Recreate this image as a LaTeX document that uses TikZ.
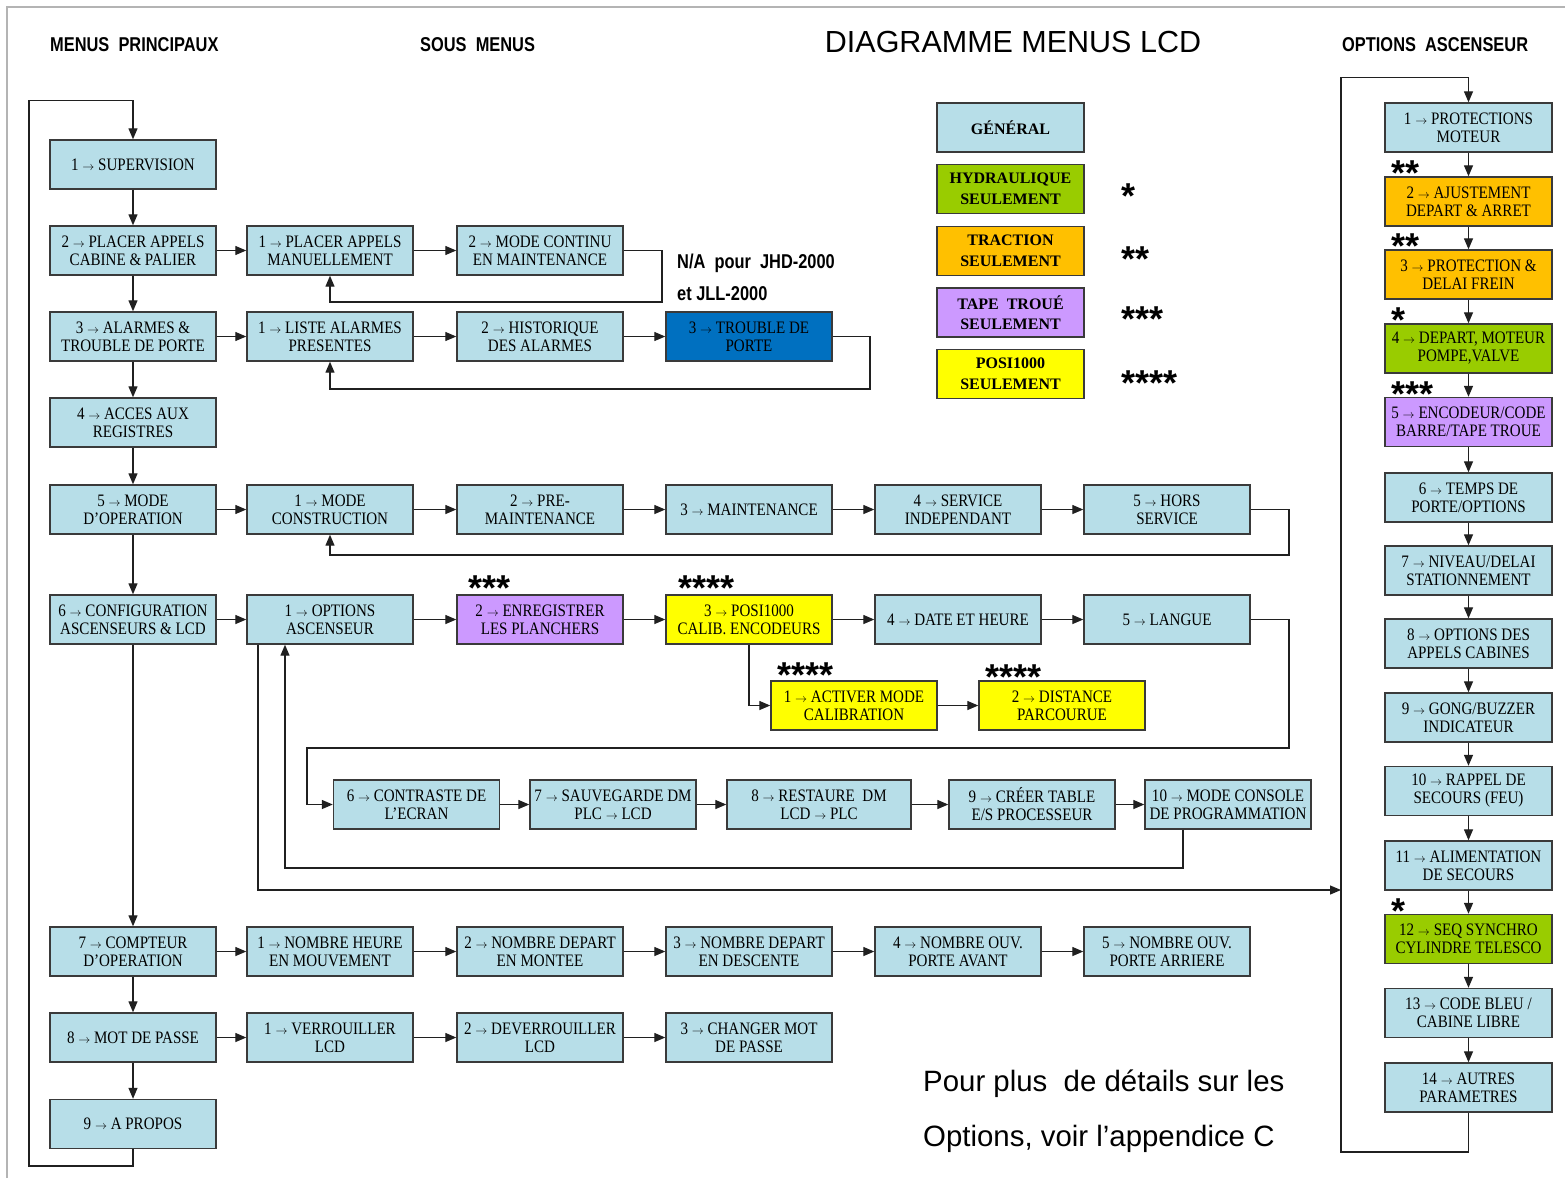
\documentclass[tikz,border=0pt]{standalone}
\usepackage{fontspec}
\setmainfont{Liberation Serif}
\newfontfamily\bxfont[FakeStretch=0.86]{Liberation Serif}
\newfontfamily\hdfont[FakeStretch=0.82]{Liberation Sans}
\newfontfamily\sansfont{Liberation Sans}
\usetikzlibrary{arrows.meta}
\definecolor{gen}{HTML}{B7DEE8}
\definecolor{hyd}{HTML}{99CC00}
\definecolor{tra}{HTML}{FFC000}
\definecolor{tap}{HTML}{CC99FF}
\definecolor{pos}{HTML}{FFFF00}
\definecolor{blu}{HTML}{0070C0}
\definecolor{bline}{HTML}{3A3A3A}
\definecolor{lnc}{HTML}{202020}
\definecolor{pageb}{HTML}{B4B4B4}
\newcommand\ra{{\fontsize{13}{13}\selectfont$\rightarrow$}}
\newcommand\stz[1]{\smash{\raisebox{-0.575em}{#1}}}
\tikzset{
  bx/.style={draw=bline, line width=1.4pt, fill=gen, minimum width=166pt, minimum height=49pt,
     inner sep=1pt, align=center, font=\bxfont\fontsize{17.5}{18}\selectfont},
  lg/.style={bx, minimum width=147pt, font=\bfseries\fontsize{16}{20.5}\selectfont},
  arr/.style={draw=lnc, line width=1.3pt, -{Triangle[length=11pt,width=9pt]}},
  stars/.style={font=\sansfont\bfseries\fontsize{36}{36}\selectfont, inner sep=0pt,
     text height=0.14em, text depth=0.14em, anchor=west},
  hd/.style={font=\hdfont\bfseries\fontsize{20}{20}\selectfont, inner sep=0pt, anchor=west},
  big/.style={font=\sansfont\fontsize{29.4}{29.4}\selectfont, inner sep=0pt, anchor=west},
}
\begin{document}
\begin{tikzpicture}[x=1pt,y=-1pt]
\useasboundingbox (0,0) rectangle (1565,1178);
\fill[white] (0,0) rectangle (1565,1178);
\draw[pageb, line width=2pt] (7,1178) -- (7,7) -- (1565,7);

% headers
\node[hd] (h1) at (50,45) {MENUS\ \ PRINCIPAUX};
\node[hd] (h2) at (420,45) {SOUS\ \ MENUS};
\node[hd] (h3) at (1342,45) {OPTIONS\ \ ASCENSEUR};
\node[font=\sansfont\fontsize{30.5}{30.5}\selectfont, inner sep=0pt] (title) at (1013,42) {DIAGRAMME MENUS LCD};
\node[hd] (na1) at (677,263) {N/A\ \ pour\ \ JHD-2000};
\node[hd] (na2) at (677,294) {et JLL-2000};
\node[big] (f1) at (923,1084) {Pour plus\ \ de détails sur les};
\node[big] (f2) at (923,1139) {Options, voir l’appendice C};

% main column
\node[bx] (m1) at (133,164.5) {1 \ra{} SUPERVISION};
\node[bx] (m2) at (133,250.5) {2 \ra{} PLACER APPELS\\ CABINE \& PALIER};
\node[bx] (m3) at (133,336.5) {3 \ra{} ALARMES \&\\ TROUBLE DE PORTE};
\node[bx] (m4) at (133,422.5) {4 \ra{} ACCES AUX\\ REGISTRES};
\node[bx] (m5) at (133,509.5) {5 \ra{} MODE\\ D’OPERATION};
\node[bx] (m6) at (133,619.5) {6 \ra{} CONFIGURATION\\ ASCENSEURS \& LCD};
\node[bx] (m7) at (133,951.5) {7 \ra{} COMPTEUR\\ D’OPERATION};
\node[bx] (m8) at (133,1037.5) {8 \ra{} MOT DE PASSE};
\node[bx] (m9) at (133,1124) {9 \ra{} A PROPOS};

% sub menus
\node[bx] (s21) at (330,250.5) {1 \ra{} PLACER APPELS\\ MANUELLEMENT};
\node[bx] (s22) at (540,250.5) {2 \ra{} MODE CONTINU\\ EN MAINTENANCE};
\node[bx] (s31) at (330,336.5) {1 \ra{} LISTE ALARMES\\ PRESENTES};
\node[bx] (s32) at (540,336.5) {2 \ra{} HISTORIQUE\\ DES ALARMES};
\node[bx, fill=blu] (s33) at (749,336.5) {3 \ra{} TROUBLE DE\\ PORTE};
\node[bx] (s51) at (330,509.5) {1 \ra{} MODE\\ CONSTRUCTION};
\node[bx] (s52) at (540,509.5) {2 \ra{} PRE-\\ MAINTENANCE};
\node[bx] (s53) at (749,509.5) {3 \ra{} MAINTENANCE};
\node[bx] (s54) at (958,509.5) {4 \ra{} SERVICE\\ INDEPENDANT};
\node[bx] (s55) at (1167,509.5) {5 \ra{} HORS\\ SERVICE};
\node[bx] (s61) at (330,619.5) {1 \ra{} OPTIONS\\ ASCENSEUR};
\node[bx, fill=tap] (s62) at (540,619.5) {2 \ra{} ENREGISTRER\\ LES PLANCHERS};
\node[bx, fill=pos] (s63) at (749,619.5) {3 \ra{} POSI1000\\ CALIB. ENCODEURS};
\node[bx] (s64) at (958,619.5) {4 \ra{} DATE ET HEURE};
\node[bx] (s65) at (1167,619.5) {5 \ra{} LANGUE};
\node[bx, fill=pos] (a1) at (854,705.5) {1 \ra{} ACTIVER MODE\\ CALIBRATION};
\node[bx, fill=pos] (a2) at (1062,705.5) {2 \ra{} DISTANCE\\ PARCOURUE};
\node[bx] (c6) at (416.5,804.5) {6 \ra{} CONTRASTE DE\\ L’ECRAN};
\node[bx] (c7) at (613,804.5) {7 \ra{} SAUVEGARDE DM\\ PLC \ra{} LCD};
\node[bx, minimum width=184pt] (c8) at (819,804.5) {8 \ra{} RESTAURE\ \ DM\\ LCD \ra{} PLC};
\node[bx] (c9) at (1032,804.5) {9 \ra{} CRÉER TABLE\\ E/S PROCESSEUR};
\node[bx] (c10) at (1228,804.5) {10 \ra{} MODE CONSOLE\\ DE PROGRAMMATION};
\node[bx] (s71) at (330,951.5) {1 \ra{} NOMBRE HEURE\\ EN MOUVEMENT};
\node[bx] (s72) at (540,951.5) {2 \ra{} NOMBRE DEPART\\ EN MONTEE};
\node[bx] (s73) at (749,951.5) {3 \ra{} NOMBRE DEPART\\ EN DESCENTE};
\node[bx] (s74) at (958,951.5) {4 \ra{} NOMBRE OUV.\\ PORTE AVANT};
\node[bx] (s75) at (1167,951.5) {5 \ra{} NOMBRE OUV.\\ PORTE ARRIERE};
\node[bx] (s81) at (330,1037.5) {1 \ra{} VERROUILLER\\ LCD};
\node[bx] (s82) at (540,1037.5) {2 \ra{} DEVERROUILLER\\ LCD};
\node[bx] (s83) at (749,1037.5) {3 \ra{} CHANGER MOT\\ DE PASSE};

% legend
\node[lg] (l1) at (1010.5,127.5) {GÉNÉRAL};
\node[lg, fill=hyd] (l2) at (1010.5,189) {HYDRAULIQUE\\ SEULEMENT};
\node[lg, fill=tra] (l3) at (1010.5,251) {TRACTION\\ SEULEMENT};
\node[lg, fill=tap] (l4) at (1010.5,312.5) {TAPE\ \ TROUÉ\\ SEULEMENT};
\node[lg, fill=pos] (l5) at (1010.5,374) {POSI1000\\ SEULEMENT};
\node[stars] (ls1) at (1121,188) {\stz{*}};
\node[stars] (ls2) at (1121,251) {\stz{**}};
\node[stars] (ls3) at (1121,311) {\stz{***}};
\node[stars] (ls4) at (1121,375) {\stz{****}};

% options ascenseur column
\node[bx, minimum width=167pt] (r1) at (1468.5,127.5) {1 \ra{} PROTECTIONS\\ MOTEUR};
\node[bx, minimum width=167pt, fill=tra] (r2) at (1468.5,201.5) {2 \ra{} AJUSTEMENT\\ DEPART \& ARRET};
\node[bx, minimum width=167pt, fill=tra] (r3) at (1468.5,274.5) {3 \ra{} PROTECTION \&\\ DELAI FREIN};
\node[bx, minimum width=167pt, fill=hyd] (r4) at (1468.5,348.5) {4 \ra{} DEPART, MOTEUR\\ POMPE,VALVE};
\node[bx, minimum width=167pt, fill=tap] (r5) at (1468.5,422) {5 \ra{} ENCODEUR/CODE\\ BARRE/TAPE TROUE};
\node[bx, minimum width=167pt] (r6) at (1468.5,497.5) {6 \ra{} TEMPS DE\\ PORTE/OPTIONS};
\node[bx, minimum width=167pt] (r7) at (1468.5,570.5) {7 \ra{} NIVEAU/DELAI\\ STATIONNEMENT};
\node[bx, minimum width=167pt] (r8) at (1468.5,643.5) {8 \ra{} OPTIONS DES\\ APPELS CABINES};
\node[bx, minimum width=167pt] (r9) at (1468.5,717.5) {9 \ra{} GONG/BUZZER\\ INDICATEUR};
\node[bx, minimum width=167pt] (r10) at (1468.5,791) {10 \ra{} RAPPEL DE\\ SECOURS (FEU)};
\node[bx, minimum width=167pt] (r11) at (1468.5,865.5) {11 \ra{} ALIMENTATION\\ DE SECOURS};
\node[bx, minimum width=167pt, fill=hyd] (r12) at (1468.5,939) {12 \ra{} SEQ SYNCHRO\\ CYLINDRE TELESCO};
\node[bx, minimum width=167pt] (r13) at (1468.5,1013) {13 \ra{} CODE BLEU /\\ CABINE LIBRE};
\node[bx, minimum width=167pt] (r14) at (1468.5,1087.5) {14 \ra{} AUTRES\\ PARAMETRES};

% stars
\node[stars] (st1) at (468,580) {\stz{***}};
\node[stars] (st2) at (678,580) {\stz{****}};
\node[stars] (st3) at (777,667) {\stz{****}};
\node[stars] (st4) at (985,669) {\stz{****}};
\node[stars] (rs2) at (1391,165) {\stz{**}};
\node[stars] (rs3) at (1391,238) {\stz{**}};
\node[stars] (rs4) at (1391,312) {\stz{*}};
\node[stars] (rs5) at (1391,386) {\stz{***}};
\node[stars] (rs12) at (1391,903) {\stz{*}};

% main vertical arrows
\foreach \a/\b in {m1/m2,m2/m3,m3/m4,m4/m5,m5/m6,m6/m7,m7/m8,m8/m9}
  \draw[arr] (\a) -- (\b);
% right column arrows
\foreach \a/\b in {r1/r2,r2/r3,r3/r4,r4/r5,r5/r6,r6/r7,r7/r8,r8/r9,r9/r10,r10/r11,r11/r12,r12/r13,r13/r14}
  \draw[arr] (\a) -- (\b);
% horizontal arrows
\foreach \a/\b in {m2/s21,s21/s22,m3/s31,s31/s32,s32/s33,m5/s51,s51/s52,s52/s53,s53/s54,s54/s55,
  m6/s61,s61/s62,s62/s63,s63/s64,s64/s65,a1/a2,c6/c7,c7/c8,c8/c9,c9/c10,
  m7/s71,s71/s72,s72/s73,s73/s74,s74/s75,m8/s81,s81/s82,s82/s83}
  \draw[arr] (\a) -- (\b);

% feedback loops
\draw[arr] (s22.east) -| (662,302) -| (s21.south);
\draw[arr] (s33.east) -| (870,389) -| (s31.south);
\draw[arr] (s55.east) -| (1289,555) -| (s51.south);
\draw[arr] (s63.south) |- (a1.west);
\draw[arr] (s65.east) -| (1289,748) -| (307,804.5) -- (c6.west);
\draw[arr] ([xshift=-45pt]c10.south) |- (285,868) -- ([xshift=-45pt]s61.south);
\coordinate (rin) at (1341,890);
\draw[arr] ([xshift=-72pt]s61.south) |- (rin);
\draw[arr] (m9.south) |- (29,1166) |- ([yshift=39pt]m1.north) -- (m1.north);
\draw[arr] (r14.south) |- (1341,1152) |- ([yshift=25pt]r1.north) -- (r1.north);
\end{tikzpicture}
\end{document}
